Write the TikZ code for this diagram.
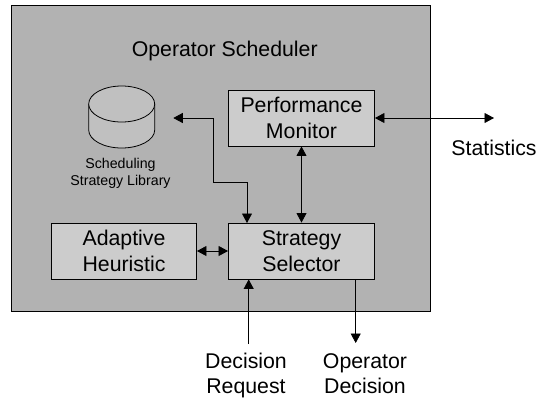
\documentclass[tikz,border=0pt]{standalone}
\usepackage{fontspec}
\setmainfont{Liberation Sans}
\usetikzlibrary{arrows.meta}

\tikzset{
    boxnode/.style={draw, fill=boxgray, line width=0.9pt, minimum width=146pt, minimum height=56pt, inner sep=0pt, align=center, font=\fontsize{21.3}{25.6}\selectfont},
    labelnode/.style={inner sep=0pt, align=center, font=\fontsize{21.3}{25.6}\selectfont},
    smallnode/.style={inner sep=0pt, align=center, font=\fontsize{14.2}{17}\selectfont},
    link/.style={draw, line width=0.8pt, {Triangle[length=9.5pt,width=10pt]}-{Triangle[length=9.5pt,width=10pt]}},
    onelink/.style={draw, line width=0.8pt, -{Triangle[length=9.5pt,width=10pt]}},
}
\definecolor{outergray}{HTML}{B2B2B2}
\definecolor{boxgray}{HTML}{CCCCCC}
\definecolor{drumgray}{HTML}{C0C0C0}

\begin{document}
\begin{tikzpicture}[x=1pt,y=-1pt]
    \useasboundingbox (0,0) rectangle (538,400);

    % scheduler
    \node[draw, fill=outergray, line width=0.9pt, minimum width=419pt, minimum height=306pt, inner sep=0pt] (scheduler) at (221,158.5) {};
    \node[labelnode] (title) at (224.7,50.5) {Operator Scheduler};

    % blocks
    \node[boxnode] (monitor) at (301.5,118) {Performance\\Monitor};
    \node[boxnode] (selector) at (301.5,251) {Strategy\\Selector};
    \node[boxnode, minimum width=145pt] (adaptive) at (124,251) {Adaptive\\Heuristic};

    % library
    \draw[fill=drumgray, line width=0.8pt] (88.7,104) -- (88.7,130) arc[start angle=180, end angle=0, x radius=33, y radius=18] -- (154.7,104);
    \draw[fill=drumgray, line width=0.8pt] (121.7,104) ellipse[x radius=33, y radius=18];
    \node[smallnode] (libtext) at (120.5,173) {Scheduling\\Strategy Library};

    % outside labels
    \node[labelnode] (stats) at (494,148) {Statistics};
    \node[labelnode, anchor=north] (request) at (246,352.5) {Decision\\Request};
    \node[labelnode, anchor=north] (decision) at (365,353) {Operator\\Decision};

    \coordinate (libtip) at (173.3,118);
    \coordinate (elbow) at (213,182.7);
    \coordinate (statstip) at (494,118);
    \coordinate (requestend) at (248.7,344);
    \coordinate (decisiontip) at (355.7,343);

    % connectors
    \draw[link] (libtip) -| (elbow) -| (247,223);
    \draw[link] (monitor) -- (selector);
    \draw[link] (monitor.east) -- (statstip);
    \draw[link] (adaptive) -- (selector);
    \draw[onelink] (requestend) -- (requestend |- selector.south);
    \draw[onelink] (decisiontip |- selector.south) -- (decisiontip);
\end{tikzpicture}
\end{document}
